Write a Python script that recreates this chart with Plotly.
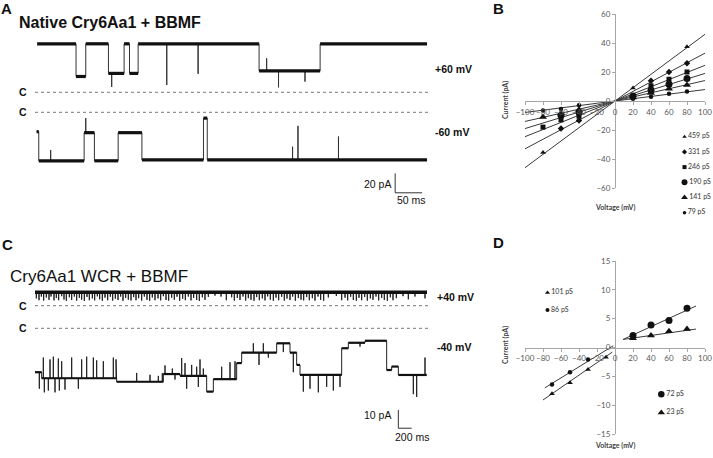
import plotly.graph_objects as go

W, H = 713, 458
FONT = "Liberation Sans, Arial, sans-serif"
SMALL = "Lato, Open Sans, sans-serif"

# ---------------- panel A traces (time in ms, current in pA vs closed level) ----------------
a_pos_seg_t = [4, 76, 94, 136, 165, 175, 191, 415, 528]
a_pos_seg_i = [50, 16.3, 50, 19.5, 50, 19.5, 50, 22, 50]
a_pos_end = 726
a_pos_spk_t = [142, 244, 302, 429, 451, 500]
a_pos_spk_i = [5.5, 7.5, 19, 35, 5.1, 11]

a_neg_seg_t = [3, 7, 91, 110, 154, 198, 312, 319]
a_neg_seg_i = [-20, -50, -21, -50, -21, -49, -6, -49]
a_neg_end = 726
a_neg_spk_t = [29, 94, 477, 487, 562]
a_neg_spk_i = [-39, -6, -35.5, -14, -25]

# ---------------- panel C traces ----------------
c_pos_open = 7.4
c_pos_end = 5880
c_pos_flickers = [
    (20, 4.0), (60, 3.0), (95, 5.0), (130, 2.8), (170, 4.5), (210, 3.2), (240, 5.0), (285, 2.9),
    (320, 4.2), (355, 3.0), (400, 5.2), (435, 3.4), (470, 2.7), (515, 4.6), (550, 3.1), (590, 5.0),
    (625, 2.8), (665, 4.3), (700, 3.3), (740, 2.6), (780, 4.8), (815, 3.0), (860, 4.0), (895, 2.9),
    (935, 5.1), (970, 3.5), (1010, 2.7), (1050, 4.4), (1090, 3.0), (1130, 4.9), (1165, 2.8), (1205, 3.9),
    (1245, 3.1), (1285, 5.0), (1320, 2.7), (1360, 4.2), (1400, 3.3), (1440, 2.9), (1480, 4.7), (1515, 3.0),
    (1555, 4.1), (1600, 2.8), (1640, 5.0), (1680, 3.2), (1720, 2.7), (1760, 4.5), (1800, 3.0), (1845, 4.0),
    (1885, 2.9), (1925, 5.2), (1965, 3.1), (2005, 2.8), (2050, 4.4), (2090, 3.3), (2130, 4.9), (2170, 2.7),
    (2215, 3.8), (2255, 3.0), (2300, 5.0), (2340, 2.9), (2380, 4.3), (2425, 3.1), (2465, 2.6), (2510, 4.6),
    (2550, 3.2), (2600, 4.8), (2700, 5.5), (2790, 5.0), (2870, 3.0), (2950, 4.6), (2990, 2.8), (3035, 4.2),
    (3075, 3.1), (3120, 5.0), (3160, 2.8), (3200, 4.1), (3240, 3.2), (3285, 2.7), (3325, 4.7), (3365, 3.0),
    (3410, 4.0), (3450, 2.9), (3490, 5.1), (3530, 3.3), (3575, 2.7), (3615, 4.4), (3655, 3.0), (3700, 4.9),
    (3740, 2.8), (3780, 3.9), (3825, 3.1), (3865, 5.0), (3905, 2.7), (3950, 4.2), (3990, 3.3), (4030, 2.9),
    (4075, 4.7), (4115, 3.0), (4160, 4.1), (4200, 2.8), (4245, 5.0), (4285, 3.2), (4330, 2.7), (4400, 4.5),
    (4520, 5.3), (4600, 3.0), (4650, 4.4), (4690, 2.9), (4735, 4.9), (4775, 3.1), (4820, 2.7), (4860, 4.3),
    (4900, 3.0), (4945, 4.8), (4985, 2.8), (5030, 4.0), (5070, 3.2), (5115, 5.0), (5155, 2.9), (5200, 4.2),
    (5240, 3.1), (5285, 2.7), (5330, 4.6), (5370, 3.0), (5420, 4.1), (5520, 5.2), (5600, 3.5), (5700, 5.0),
    (5850, 4.0),
]

c_neg_seg_t = [0, 100, 1225, 1925, 2175, 2575, 2675, 3025, 3100, 3625, 3825, 3925, 3975, 4600, 4700, 4950, 5275, 5350, 5450]
c_neg_seg_i = [-24, -27.3, -29.2, -25, -26, -34.6, -27.8, -19, -13.3, -8.2, -13.3, -20, -25.5, -10.9, -7.9, -6.8, -22.8, -20.9, -25.5]
c_neg_end = 5875
c_neg_spk_t = [65, 125, 140, 200, 225, 275, 300, 350, 365, 400, 450, 550, 650, 700, 775, 875, 925, 1025, 1175, 1215,
               1525, 1725, 1850, 1910, 1950, 2060, 2100, 2200, 2250, 2275, 2350, 2425, 2450, 2475, 2525,
               2800, 2925, 3000, 3275, 3360, 3425, 3500, 3725, 3875,
               4025, 4125, 4250, 4375, 4475, 4575, 4875, 5675, 5725, 5850]
c_neg_spk_i = [-33, -16, -35, -34, -17, -15.5, -35, -16.5, -34, -18, -33.5, -16, -33, -17, -15.5, -16, -17.5, -18, -16, -17,
               -24.4, -25.4, -26, -24.5, -20.3, -22, -28, -16.3, -19, -33, -20, -21, -32, -17, -22,
               -21, -18.5, -18, -8.2, -20, -8.2, -16, -13, -24,
               -34.6, -33, -35, -32, -34, -32, -10, -36, -37.5, -16]

# scale bars: (start time, start current, ms length, pA length)
a_bar = (667, -83, 50, 20)
c_bar = (5450, -54.6, 200, 10)

# ---------------- panel B: I-V data ----------------
b_labels = ["459 pS", "331 pS", "246 pS", "190 pS", "141 pS", "79 pS"]
b_v = [
    [-80, 20, 80],
    [-60, -40, 40, 60, 80],
    [-80, -60, -40, 40, 60, 80],
    [-60, -40, 20, 40, 60, 80],
    [-80, -60, -40, 20, 40, 60, 80],
    [-80, -60, -40, 20, 40, 60, 80],
]
b_i = [
    [-35.5, 9, 37.5],
    [-19, -13.5, 14, 20, 26],
    [-18, -13, -10.5, 10.5, 15, 20],
    [-10, -8, 3.5, 7.5, 11.5, 15.5],
    [-11, -8.5, -6, 2.5, 5.5, 8.5, 11],
    [-6.5, -5.5, -3, 1.5, 3, 5, 6.5],
]
b_fit_v = [-100, 100]
b_fit_i = [[-46, 46], [-33, 33], [-24.6, 24.6], [-19, 19], [-14.1, 14.1], [-7.9, 7.9]]

# ---------------- panel D: I-V data ----------------
d_labels = ["101 pS", "86 pS", "72 pS", "23 pS"]
d_v = [[-70, -50, -30, -10], [-70, -50, -30], [20, 40, 60, 80], [20, 40, 60, 80]]
d_i = [[-8.0, -6.1, -3.8, -1.7], [-6.4, -4.3, -2.1], [2.1, 3.9, 4.7, 6.8], [1.6, 2.1, 2.8, 3.2]]
d_fit_v = [[-80, -3], [-78, -2], [9, 90], [9, 90]]
d_fit_i = [[-9.1, -0.8], [-7.0, 0.3], [1.4, 7.2], [1.4, 3.2]]


def px(x):
    return x / W


def py(y):
    return 1 - y / H


def step_trace(seg_t, seg_i, t_end, spk_t, spk_i):
    xs, ys = [], []
    ends = list(seg_t[1:]) + [t_end]
    spikes = sorted(zip(spk_t, spk_i))
    for t0, t1, lev in zip(seg_t, ends, seg_i):
        xs.append(t0)
        ys.append(lev)
        for st, si in spikes:
            if t0 < st < t1:
                xs += [st, st, st]
                ys += [lev, si, lev]
        xs.append(t1)
        ys.append(lev)
    return xs, ys


def step_band(seg_t, seg_i, t_end):
    # the noisy dwell levels only, without transitions
    xs, ys = [], []
    ends = list(seg_t[1:]) + [t_end]
    for t0, t1, lev in zip(seg_t, ends, seg_i):
        xs += [t0, t1, None]
        ys += [lev, lev, None]
    return xs, ys


fig = go.Figure()


def line(xs, ys, xa, ya, width, color="#111111", dash=None):
    fig.add_trace(go.Scatter(x=xs, y=ys, xaxis=xa, yaxis=ya, mode="lines",
                             line=dict(color=color, width=width, dash=dash),
                             hoverinfo="skip", showlegend=False))


# A
A_RANGE = 731.5
x, y = step_trace(a_pos_seg_t, a_pos_seg_i, a_pos_end, a_pos_spk_t, a_pos_spk_i)
line(x, y, "x", "y", 1, "#333333")
x, y = step_band(a_pos_seg_t, a_pos_seg_i, a_pos_end)
line(x, y, "x", "y", 3.2)
line([0, A_RANGE], [0, 0], "x", "y", 1, "#777777", "dot")
x, y = step_trace(a_neg_seg_t, a_neg_seg_i, a_neg_end, a_neg_spk_t, a_neg_spk_i)
line(x, y, "x2", "y2", 1, "#333333")
x, y = step_band(a_neg_seg_t, a_neg_seg_i, a_neg_end)
line(x, y, "x2", "y2", 3.2)
line([0, A_RANGE], [0, 0], "x2", "y2", 1, "#777777", "dot")
t0, i0, ms, pa = a_bar
line([t0, t0, t0 + ms], [i0 + pa, i0, i0], "x2", "y2", 1, "#333333")

# C
C_RANGE = 5925
x, y = step_trace([0], [c_pos_open], c_pos_end, [f[0] for f in c_pos_flickers], [f[1] for f in c_pos_flickers])
line(x, y, "x3", "y3", 1, "#222222")
x, y = step_band([0], [c_pos_open], c_pos_end)
line(x, y, "x3", "y3", 3.5)
line([0, C_RANGE], [0, 0], "x3", "y3", 1, "#777777", "dot")
x, y = step_trace(c_neg_seg_t, c_neg_seg_i, c_neg_end, c_neg_spk_t, c_neg_spk_i)
line(x, y, "x4", "y4", 1, "#222222")
x, y = step_band(c_neg_seg_t, c_neg_seg_i, c_neg_end)
line(x, y, "x4", "y4", 2.2)
line([0, C_RANGE], [0, 0], "x4", "y4", 1, "#777777", "dot")
t0, i0, ms, pa = c_bar
line([t0, t0, t0 + ms], [i0 + pa, i0, i0], "x4", "y4", 1, "#333333")

# B
b_marks = [("triangle-up", 5), ("diamond", 5), ("square", 5), ("circle", 7), ("triangle-up", 7), ("circle", 4.5)]
for k in range(len(b_labels)):
    line(b_fit_v, b_fit_i[k], "x5", "y5", 1, "#3a3a3a")
for k, (sym, sz) in enumerate(b_marks):
    fig.add_trace(go.Scatter(x=b_v[k], y=b_i[k], xaxis="x5", yaxis="y5", mode="markers",
                             marker=dict(symbol=sym, size=sz, color="#111111"),
                             hoverinfo="skip", showlegend=False))
    fig.add_trace(go.Scatter(x=[0], y=[k], xaxis="x6", yaxis="y6", mode="markers+text",
                             text=[b_labels[k]], textposition="middle right", cliponaxis=False,
                             textfont=dict(family=SMALL, size=7, color="#333333"),
                             marker=dict(symbol=sym, size=sz - 1, color="#111111"),
                             hoverinfo="skip", showlegend=False))

# D
d_marks = [("triangle-up", 5), ("circle", 4.5), ("circle", 7), ("triangle-up", 7)]
d_leg_axes = [("x8", "y8", 0), ("x8", "y8", 1), ("x9", "y9", 0), ("x9", "y9", 1)]
for k in range(len(d_labels)):
    line(d_fit_v[k], d_fit_i[k], "x7", "y7", 1, "#3a3a3a")
for k, (sym, sz) in enumerate(d_marks):
    fig.add_trace(go.Scatter(x=d_v[k], y=d_i[k], xaxis="x7", yaxis="y7", mode="markers",
                             marker=dict(symbol=sym, size=sz, color="#111111"),
                             hoverinfo="skip", showlegend=False))
    xa, ya, row = d_leg_axes[k]
    fig.add_trace(go.Scatter(x=[0], y=[row], xaxis=xa, yaxis=ya, mode="markers+text",
                             text=[d_labels[k]], textposition="middle right", cliponaxis=False,
                             textfont=dict(family=SMALL, size=7, color="#333333"),
                             marker=dict(symbol=sym, size=sz - 0.5, color="#111111"),
                             hoverinfo="skip", showlegend=False))

hidden = dict(visible=False, showgrid=False, zeroline=False, fixedrange=True)
iv = dict(showline=True, linecolor="#a6a6a6", linewidth=1, ticks="outside", ticklen=3,
          tickcolor="#a6a6a6", tickfont=dict(family=SMALL, size=8, color="#595959"),
          showgrid=False, zeroline=False, tickangle=0, fixedrange=True)


def rng(closed, top, bottom, scale):
    return [(closed - bottom) / scale, (closed - top) / scale]


layout_axes = dict(
    xaxis=dict(hidden, domain=[px(35), px(430)], range=[0, A_RANGE], anchor="y"),
    yaxis=dict(hidden, domain=[py(100), py(30)], range=rng(92.3, 30, 100, 0.97), anchor="x"),
    xaxis2=dict(hidden, domain=[px(35), px(430)], range=[0, A_RANGE], anchor="y2"),
    yaxis2=dict(hidden, domain=[py(205), py(100)], range=rng(112.3, 100, 205, 0.97), anchor="x2"),
    xaxis3=dict(hidden, domain=[px(35), px(430)], range=[0, C_RANGE], anchor="y3"),
    yaxis3=dict(hidden, domain=[py(315), py(282)], range=rng(305.7, 282, 315, 1.83), anchor="x3"),
    xaxis4=dict(hidden, domain=[px(35), px(430)], range=[0, C_RANGE], anchor="y4"),
    yaxis4=dict(hidden, domain=[py(450), py(315)], range=rng(328.3, 315, 450, 1.83), anchor="x4"),
    xaxis5=dict(iv, domain=[px(525), px(705)], range=[-100, 100], dtick=20, anchor="free", position=py(101)),
    yaxis5=dict(iv, domain=[py(188), py(14)], range=[-60, 60], dtick=20, anchor="free", position=px(615)),
    xaxis6=dict(hidden, domain=[px(680), px(713)], range=[-4.5, 28.5], anchor="y6"),
    yaxis6=dict(hidden, domain=[py(220), py(130)], range=[5.48, -0.44], anchor="x6"),
    xaxis7=dict(iv, domain=[px(525), px(705)], range=[-100, 100], dtick=20, anchor="free", position=py(347.5)),
    yaxis7=dict(iv, domain=[py(434), py(261)], range=[-15, 15], dtick=5, anchor="free", position=px(615)),
    xaxis8=dict(hidden, domain=[px(543), px(600)], range=[-4.5, 52.5], anchor="y8"),
    yaxis8=dict(hidden, domain=[py(318), py(284)], range=[1.46, -0.503], anchor="x8"),
    xaxis9=dict(hidden, domain=[px(657), px(713)], range=[-4.3, 51.7], anchor="y9"),
    yaxis9=dict(hidden, domain=[py(421), py(386)], range=[1.451, -0.451], anchor="x9"),
)


def note(text, x, y, size, bold=False, xanchor="center", family=FONT, color="#111111", angle=0):
    return dict(text="<b>%s</b>" % text if bold else text, x=px(x), y=py(y), xref="paper", yref="paper",
                xanchor=xanchor, yanchor="middle", showarrow=False, textangle=angle,
                font=dict(family=family, size=size, color=color))


annotations = [
    note("A", 6.5, 8.5, 15, True),
    note("B", 499, 9, 15, True),
    note("C", 7, 244, 15, True),
    note("D", 499, 242.5, 15, True),
    note("Native Cry6Aa1 + BBMF", 17, 22.5, 16, True, "left"),
    note("Cry6Aa1 WCR + BBMF", 8, 276.5, 17, False, "left"),
    note("C", 22.7, 92.3, 10.5, True),
    note("C", 22.7, 112.3, 10.5, True),
    note("C", 22.7, 305.7, 10.5, True),
    note("C", 22.7, 328.3, 10.5, True),
    note("+60 mV", 433, 69, 10.5, True, "left"),
    note("-60 mV", 433, 132, 10.5, True, "left"),
    note("+40 mV", 435, 296.7, 10.5, True, "left"),
    note("-40 mV", 435, 347.3, 10.5, True, "left"),
    note("20 pA", 393, 184, 10.5, False, "right"),
    note("50 ms", 411.5, 200, 10.5),
    note("10 pA", 393, 415, 10.5, False, "right"),
    note("200 ms", 411.5, 436.7, 10.5),
    note("Current (pA)", 505, 100, 7, True, family=SMALL, color="#404040", angle=-90),
    note("Voltage (mV)", 615, 208, 7, True, family=SMALL, color="#404040"),
    note("Current (pA)", 505, 345, 7, True, family=SMALL, color="#404040", angle=-90),
    note("Voltage (mV)", 615, 445, 7, True, family=SMALL, color="#404040"),
]

fig.update_layout(
    width=W, height=H,
    margin=dict(l=0, r=0, t=0, b=0, autoexpand=False),
    paper_bgcolor="white", plot_bgcolor="white",
    showlegend=False,
    annotations=annotations,
    **layout_axes,
)

fig.write_html("out.html", config={"displayModeBar": False},
               post_script="document.body.style.margin = '0';")
